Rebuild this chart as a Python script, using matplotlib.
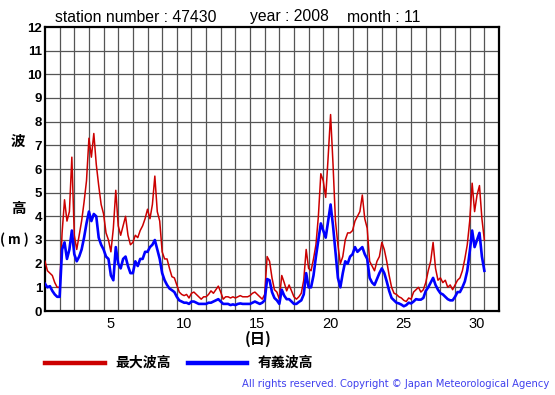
import numpy as np
import matplotlib
matplotlib.use("Agg")
import matplotlib.pyplot as plt
from matplotlib.lines import Line2D

# ---- data: 4-hourly wave heights (m), November 2008, station 47430 ----
max_wave = [
    2.1, 1.7, 1.6, 1.5, 1.2, 1.0,      # 1
    1.0, 3.3, 4.7, 3.8, 4.2, 6.5,      # 2
    3.2, 2.6, 3.2, 3.8, 4.6, 5.5,      # 3
    7.3, 6.5, 7.5, 6.2, 5.3, 4.5,      # 4
    4.1, 3.3, 3.0, 2.5, 3.5, 5.1,      # 5
    3.6, 3.2, 3.6, 4.0, 3.2, 2.8,      # 6
    2.9, 3.2, 3.1, 3.4, 3.6, 3.9,      # 7
    4.3, 3.9, 4.5, 5.7, 4.2, 3.8,      # 8
    2.5, 2.2, 2.2, 1.8, 1.45, 1.4,     # 9
    1.1, 0.8, 0.7, 0.65, 0.7, 0.55,    # 10
    0.75, 0.8, 0.7, 0.6, 0.5, 0.6,     # 11
    0.6, 0.7, 0.85, 0.75, 0.9, 1.05,   # 12
    0.8, 0.5, 0.6, 0.6, 0.55, 0.6,     # 13
    0.55, 0.6, 0.65, 0.6, 0.6, 0.6,    # 14
    0.65, 0.75, 0.8, 0.7, 0.6, 0.5,    # 15
    0.7, 2.3, 2.1, 1.4, 0.9, 0.8,      # 16
    0.5, 1.5, 1.2, 0.85, 1.1, 0.85,    # 17
    0.6, 0.5, 0.6, 0.75, 1.3, 2.6,     # 18
    1.8, 1.7, 2.2, 2.8, 4.0, 5.8,      # 19
    5.5, 4.8, 6.5, 8.3, 6.2, 3.8,      # 20
    2.8, 2.0, 2.3, 3.0, 3.3, 3.3,      # 21
    3.4, 3.8, 4.0, 4.2, 4.9, 3.9,      # 22
    3.5, 2.1, 1.9, 1.7, 2.1, 2.3,      # 23
    2.9, 2.6, 2.1, 1.5, 1.0, 0.75,     # 24
    0.7, 0.6, 0.55, 0.45, 0.4, 0.55,   # 25
    0.5, 0.8, 0.9, 1.0, 0.8, 0.9,      # 26
    1.2, 1.7, 2.1, 2.9, 1.8, 1.3,      # 27
    1.4, 1.2, 1.3, 1.0, 1.1, 0.9,      # 28
    1.1, 1.3, 1.4, 1.7, 2.2, 2.8,      # 29
    3.8, 5.4, 4.2, 4.9, 5.3, 3.9,      # 30
    3.0,
]
sig_wave = [
    1.15, 1.0, 1.05, 0.85, 0.7, 0.6,   # 1
    0.6, 2.6, 2.9, 2.2, 2.6, 3.4,      # 2
    2.4, 2.1, 2.3, 2.6, 3.1, 3.7,      # 3
    4.2, 3.8, 4.1, 4.0, 3.1, 2.8,      # 4
    2.6, 2.3, 2.2, 1.5, 1.3, 2.7,      # 5
    2.0, 1.8, 2.2, 2.3, 1.9, 1.6,      # 6
    1.6, 2.1, 1.9, 2.2, 2.2, 2.5,      # 7
    2.5, 2.7, 2.8, 3.0, 2.6, 2.2,      # 8
    1.6, 1.3, 1.1, 0.95, 0.88, 0.8,    # 9
    0.6, 0.45, 0.4, 0.35, 0.35, 0.3,   # 10
    0.4, 0.4, 0.35, 0.3, 0.3, 0.3,     # 11
    0.3, 0.35, 0.35, 0.4, 0.45, 0.5,   # 12
    0.4, 0.3, 0.3, 0.3, 0.25, 0.28,    # 13
    0.25, 0.3, 0.32, 0.3, 0.3, 0.3,    # 14
    0.3, 0.35, 0.4, 0.35, 0.3, 0.35,   # 15
    0.45, 1.35, 1.3, 0.8, 0.55, 0.45,  # 16
    0.3, 0.9, 0.65, 0.5, 0.5, 0.4,     # 17
    0.3, 0.3, 0.38, 0.45, 0.7, 1.6,    # 18
    1.0, 1.0, 1.5, 2.3, 3.0, 3.7,      # 19
    3.4, 3.1, 3.8, 4.5, 3.6, 2.5,      # 20
    1.4, 1.0, 1.6, 2.1, 2.0, 2.3,      # 21
    2.4, 2.7, 2.5, 2.6, 2.7, 2.4,      # 22
    2.2, 1.4, 1.2, 1.1, 1.35, 1.6,     # 23
    1.8, 1.6, 1.25, 0.85, 0.55, 0.45,  # 24
    0.35, 0.32, 0.27, 0.2, 0.25, 0.35, # 25
    0.32, 0.4, 0.5, 0.48, 0.48, 0.55,  # 26
    0.85, 1.0, 1.2, 1.4, 1.1, 0.9,     # 27
    0.75, 0.7, 0.6, 0.5, 0.45, 0.45,   # 28
    0.6, 0.8, 0.8, 1.0, 1.25, 1.7,     # 29
    2.5, 3.4, 2.7, 3.0, 3.3, 2.3,      # 30
    1.7,
]
hours_step = 4
day_ticks = [5, 10, 15, 20, 25, 30]
y_ticks = list(range(0, 13))

RED = "#cc0000"
BLUE = "#0000ff"

W, H = 555, 395
fig = plt.figure(figsize=(W / 100, H / 100), dpi=100)
fig.patch.set_facecolor("white")

def fx(px):
    return px / W

def fy(py):
    return 1 - py / H

ax = fig.add_axes([fx(45), fy(311), fx(499) - fx(45), fy(27) - fy(311)])

t = np.arange(len(max_wave)) * hours_step / 24.0
ax.plot(t, max_wave, color=RED, lw=1.1, zorder=3)
ax.plot(t, sig_wave, color=BLUE, lw=1.9, zorder=4)

ax.set_xlim(0, 31)
ax.set_ylim(0, 12)
ax.set_xticks([d - 0.5 for d in day_ticks])
ax.set_xticklabels([str(d) for d in day_ticks], fontsize=10.5,
                   family="Liberation Sans")
ax.set_yticks(y_ticks)
ax.set_yticklabels([str(v) for v in y_ticks], fontsize=9.5,
                   fontweight="bold", family="Liberation Sans")
ax.tick_params(axis="both", which="both", length=0)
ax.tick_params(axis="x", pad=4)
ax.tick_params(axis="y", pad=2)
ax.grid(False)
for v in range(1, 31):
    ax.axvline(v, color="#555555", lw=0.9, zorder=1)
for v in range(1, 12):
    ax.axhline(v, color="#555555", lw=0.9, zorder=1)
for s in ax.spines.values():
    s.set_linewidth(1.6)
    s.set_color("black")

# titles
fig.text(fx(55), fy(17), "station number : 47430", fontsize=11.3,
         family="Liberation Sans", va="center", ha="left")
fig.text(fx(250), fy(17), "year : 2008", fontsize=11.3,
         family="Liberation Sans", va="center", ha="left")
fig.text(fx(347), fy(17), "month : 11", fontsize=11.3,
         family="Liberation Sans", va="center", ha="left")

cjk = ["Noto Sans CJK JP", "DejaVu Sans"]
fig.text(fx(18), fy(141), "波", fontsize=10.5, fontweight="bold",
         family=cjk, ha="center", va="center")
fig.text(fx(18), fy(208), "高", fontsize=10.5, fontweight="bold",
         family=cjk, ha="center", va="center")
fig.text(fx(14), fy(240), "( m )", fontsize=9.5, fontweight="bold",
         family=cjk, ha="center", va="center")
fig.text(fx(258), fy(339), "(日)", fontsize=11, fontweight="bold",
         family=cjk, ha="center", va="center")

# legend
fig.add_artist(Line2D([fx(45), fx(105)], [fy(363), fy(363)], color=RED, lw=3.2))
fig.text(fx(115), fy(363), "最大波高", fontsize=10, fontweight="bold",
         family=cjk, ha="left", va="center")
fig.add_artist(Line2D([fx(188), fx(247)], [fy(363), fy(363)], color=BLUE, lw=3.2))
fig.text(fx(258), fy(363), "有義波高", fontsize=10, fontweight="bold",
         family=cjk, ha="left", va="center")

fig.text(fx(549), fy(384),
         "All rights reserved. Copyright \u00a9 Japan Meteorological Agency",
         fontsize=7.2, color="#4040ee", family="DejaVu Sans",
         ha="right", va="center")

fig.savefig("out.png", dpi=100)
